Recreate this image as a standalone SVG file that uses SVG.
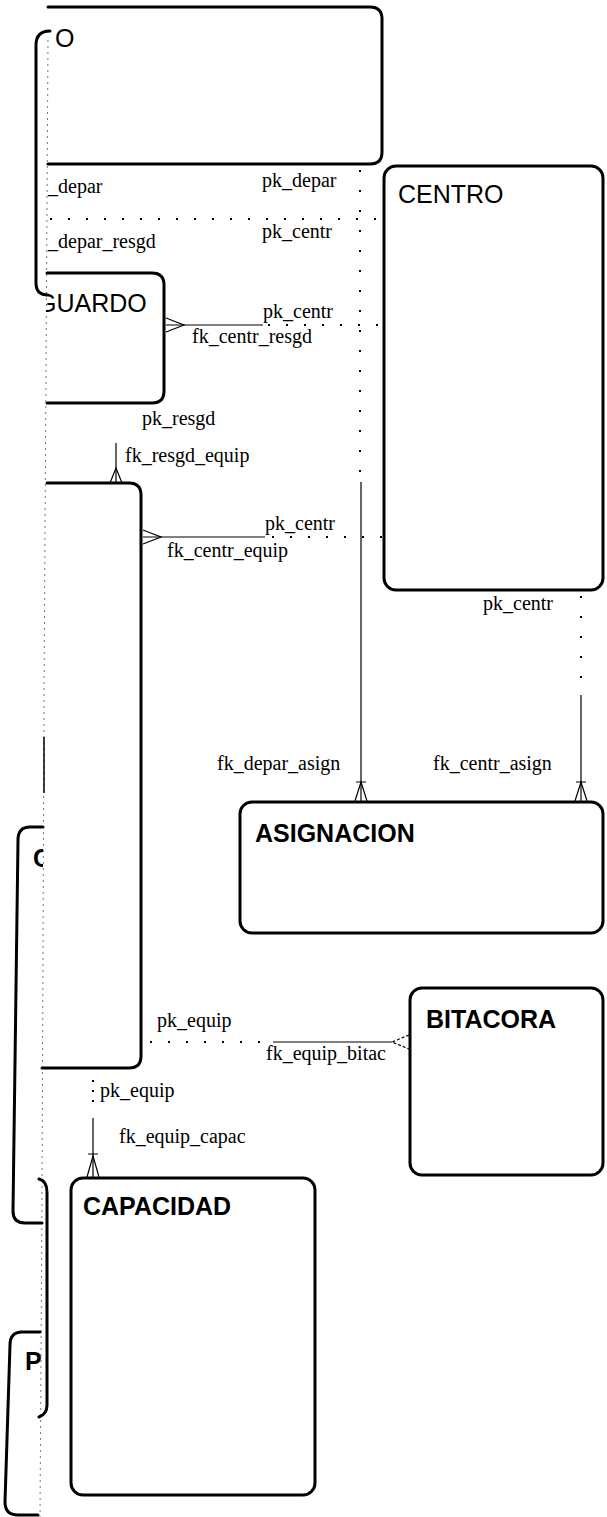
<svg xmlns="http://www.w3.org/2000/svg" width="607" height="1517" viewBox="0 0 607 1517">
<style>
.box{fill:none;stroke:#000;stroke-width:3;stroke-linecap:round;stroke-linejoin:round}
.title{font-family:"Liberation Sans",Arial,sans-serif;font-size:25px;fill:#000}
.b{font-weight:bold}
.lbl{font-family:"Liberation Serif","Times New Roman",serif;font-size:20px;fill:#000}
.ln{fill:none;stroke:#000;stroke-width:1.2}
.dot{fill:none;stroke:#000;stroke-width:2;stroke-dasharray:2 16;stroke-linecap:butt}
.dotv{fill:none;stroke:#000;stroke-width:2;stroke-dasharray:2 18}
.cut{fill:none;stroke:#777;stroke-width:1;stroke-dasharray:2 4}
.cf{fill:none;stroke:#000;stroke-width:1.2}
.cfd{fill:none;stroke:#000;stroke-width:1.2;stroke-dasharray:3 2}
</style>
<defs>
<clipPath id="clipR"><rect x="46" y="0" width="561" height="1517"/></clipPath>
<clipPath id="clipL"><rect x="0" y="0" width="43" height="1517"/></clipPath>
</defs>
<rect width="607" height="1517" fill="#fff"/>
<path class="cut" d="M48,40 L44,700 L42,1200 L40,1517"/>
<line x1="44" y1="737" x2="44" y2="793" stroke="#000" stroke-width="1.5"/>
<g id="n-departamento">
<path class="box" d="M48,7 L370,7 Q382,7 382,19 L382,152 Q382,164 370,164 L48,164"/>
<path class="box" d="M50,31 Q36,31 36,45 L36,283 Q36,295 48,295"/>
<text class="title" x="55" y="47">O</text>
</g>
<g id="n-centro">
<rect class="box" x="384" y="166" width="219" height="424" rx="12"/>
<text class="title" x="398" y="203">CENTRO</text>
</g>
<g id="n-resguardo">
<path class="box" d="M47,273 L152,273 Q164,273 164,285 L164,391 Q164,403 152,403 L47,403"/>
<text class="title" x="37" y="312" clip-path="url(#clipR)">GUARDO</text>
</g>
<g id="n-equipo">
<path class="box" d="M47,483 L129,483 Q141,483 141,495 L141,1056 Q141,1068 129,1068 L42,1068"/>
</g>
<g id="n-asignacion">
<rect class="box" x="240" y="802" width="363" height="131" rx="12"/>
<text class="title b" x="255" y="842">ASIGNACION</text>
</g>
<g id="n-bitacora">
<rect class="box" x="410" y="988" width="193" height="187" rx="12"/>
<text class="title b" x="426" y="1028">BITACORA</text>
</g>
<g id="n-capacidad">
<rect class="box" x="71" y="1178" width="244" height="317" rx="12"/>
<text class="title b" x="83" y="1215">CAPACIDAD</text>
</g>
<g id="n-c">
<path class="box" d="M43,827 L30,827 Q18,827 18,840 L13,1211 Q13,1223 25,1223 L42,1223"/>
<text class="title b" x="33" y="867" clip-path="url(#clipL)">C</text>
</g>
<g id="n-bracket2">
<path class="box" d="M39,1179 Q47,1181 47,1192 L47,1405 Q47,1414 39,1417"/>
</g>
<g id="n-p">
<path class="box" d="M40,1332 L22,1332 Q10,1332 10,1345 L5,1502 Q5,1515 18,1515 L38,1515"/>
<text class="title b" x="25" y="1370" clip-path="url(#clipL)">P</text>
</g>
<g id="connectors">
<!-- horizontal y=219 -->
<line class="dot" x1="50" y1="219" x2="378" y2="219"/>
<text class="lbl" x="48" y="193">_depar</text>
<text class="lbl" x="262" y="187">pk_depar</text>
<text class="lbl" x="48" y="248">_depar_resgd</text>
<text class="lbl" x="262" y="238">pk_centr</text>
<!-- depar -> asignacion -->
<line class="dotv" x1="360" y1="170" x2="360" y2="480"/>
<line class="ln" x1="361" y1="482" x2="361" y2="801"/>
<path class="cf" d="M355,801 L361,782 L367,801 M356,782 L366,782"/>
<text class="lbl" x="217" y="770">fk_depar_asign</text>
<!-- centro -> resguardo -->
<line class="ln" x1="166" y1="325" x2="263" y2="325"/>
<line class="dot" x1="268" y1="325" x2="382" y2="325"/>
<path class="cf" d="M166,318 L184,325 L166,332"/>
<text class="lbl" x="263" y="318">pk_centr</text>
<text class="lbl" x="192" y="343">fk_centr_resgd</text>
<!-- resguardo -> equipo -->
<line class="ln" x1="116" y1="443" x2="116" y2="483"/>
<path class="cf" d="M110,483 L116,468 L122,483"/>
<text class="lbl" x="142" y="425">pk_resgd</text>
<text class="lbl" x="125" y="462">fk_resgd_equip</text>
<!-- centro -> equipo -->
<line class="ln" x1="143" y1="537" x2="265" y2="537"/>
<line class="dot" x1="272" y1="537" x2="382" y2="537"/>
<path class="cf" d="M143,530 L161,537 L143,544"/>
<text class="lbl" x="265" y="530">pk_centr</text>
<text class="lbl" x="167" y="557">fk_centr_equip</text>
<!-- centro -> asignacion -->
<line class="dotv" x1="581" y1="596" x2="581" y2="695"/>
<line class="ln" x1="581" y1="695" x2="581" y2="801"/>
<path class="cf" d="M575,801 L581,782 L587,801 M576,782 L586,782"/>
<text class="lbl" x="483" y="610">pk_centr</text>
<text class="lbl" x="433" y="770">fk_centr_asign</text>
<!-- equipo -> bitacora -->
<line class="dot" x1="150" y1="1042" x2="270" y2="1042"/>
<line class="ln" x1="273" y1="1042" x2="392" y2="1042"/>
<path class="cfd" d="M409,1035 L392,1042 L409,1049"/>
<text class="lbl" x="157" y="1027">pk_equip</text>
<text class="lbl" x="266" y="1060">fk_equip_bitac</text>
<!-- equipo -> capacidad -->
<line class="dotv" x1="93" y1="1080" x2="93" y2="1108" style="stroke-dasharray:2 8"/>
<line class="ln" x1="93" y1="1118" x2="93" y2="1177"/>
<path class="cf" d="M87,1177 L93,1156 L99,1177 M88,1154 L98,1154"/>
<text class="lbl" x="100" y="1097">pk_equip</text>
<text class="lbl" x="119" y="1143">fk_equip_capac</text>
</g>
</svg>
